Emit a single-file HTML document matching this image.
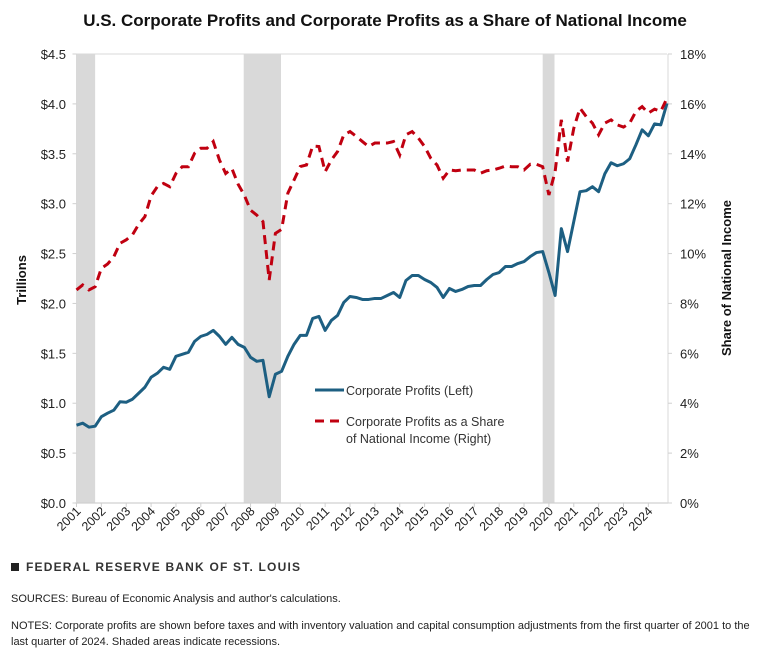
<!DOCTYPE html>
<html><head><meta charset="utf-8"><style>
body{margin:0;background:#fff;width:770px;height:653px;overflow:hidden;font-family:"Liberation Sans",sans-serif;}
svg{position:absolute;left:0;top:0}
.t{font-family:"Liberation Sans",sans-serif;}
</style></head><body>
<svg id="chart" width="770" height="653" xmlns="http://www.w3.org/2000/svg">
<text x="385" y="26" text-anchor="middle" font-size="17" font-weight="bold" fill="#111" class="t">U.S. Corporate Profits and Corporate Profits as a Share of National Income</text>
<g id="rec"></g>
<g id="grid"></g>
<g id="axes"></g>
<g id="series"></g>
<g>
<line x1="315" y1="390" x2="344" y2="390" stroke="#1d5f82" stroke-width="3"/>
<text x="346" y="395" font-size="12.5" fill="#333" class="t">Corporate Profits (Left)</text>
<line x1="315" y1="421" x2="344" y2="421" stroke="#c00010" stroke-width="3" stroke-dasharray="9,6"/>
<text x="346" y="426" font-size="12.5" fill="#333" class="t">Corporate Profits as a Share</text>
<text x="346" y="443" font-size="12.5" fill="#333" class="t">of National Income (Right)</text>
</g>
<text transform="translate(26,280) rotate(-90)" text-anchor="middle" font-size="13" font-weight="bold" fill="#111" class="t">Trillions</text>
<text transform="translate(731,278) rotate(-90)" text-anchor="middle" font-size="13" font-weight="bold" fill="#111" class="t">Share of National Income</text>
<rect x="11" y="563" width="8" height="8" fill="#222"/>
<text x="26" y="571" font-size="12" font-weight="bold" letter-spacing="1.2" fill="#333" class="t">FEDERAL RESERVE BANK OF ST. LOUIS</text>
<text x="11" y="602" font-size="11" fill="#222" class="t">SOURCES: Bureau of Economic Analysis and author's calculations.</text>
<text x="11" y="629" font-size="11" fill="#222" class="t">NOTES: Corporate profits are shown before taxes and with inventory valuation and capital consumption adjustments from the first quarter of 2001 to the</text>
<text x="11" y="645" font-size="11" fill="#222" class="t">last quarter of 2024. Shaded areas indicate recessions.</text>
</svg>
<script>
const years=[2001,2002,2003,2004,2005,2006,2007,2008,2009,2010,2011,2012,2013,2014,2015,2016,2017,2018,2019,2020,2021,2022,2023,2024];
const leftTicks=[0,0.5,1,1.5,2,2.5,3,3.5,4,4.5];
const leftLabels=["$0.0","$0.5","$1.0","$1.5","$2.0","$2.5","$3.0","$3.5","$4.0","$4.5"];
const rightTicks=[0,2,4,6,8,10,12,14,16,18];
const rightLabels=["0%","2%","4%","6%","8%","10%","12%","14%","16%","18%"];
const recessions=[[0,3],[26.9,32.9],[75,76.9]];
const profits=[0.78,0.80,0.76,0.77,0.865,0.90,0.93,1.015,1.01,1.04,1.10,1.16,1.26,1.30,1.36,1.34,1.47,1.49,1.51,1.62,1.67,1.69,1.73,1.67,1.59,1.66,1.59,1.56,1.46,1.42,1.43,1.065,1.29,1.32,1.47,1.59,1.68,1.68,1.85,1.87,1.73,1.83,1.88,2.01,2.07,2.06,2.04,2.04,2.05,2.05,2.08,2.11,2.06,2.23,2.28,2.28,2.24,2.21,2.16,2.06,2.15,2.12,2.14,2.17,2.18,2.18,2.24,2.29,2.31,2.37,2.37,2.40,2.42,2.47,2.51,2.52,2.31,2.08,2.75,2.52,2.82,3.12,3.13,3.17,3.12,3.30,3.41,3.38,3.40,3.45,3.59,3.74,3.68,3.80,3.79,4.005];
const share=[8.54,8.74,8.54,8.67,9.41,9.58,9.87,10.41,10.55,10.75,11.17,11.48,12.31,12.68,12.81,12.68,13.21,13.48,13.48,14.02,14.22,14.22,14.49,13.75,13.21,13.41,12.78,12.34,11.74,11.54,11.28,8.94,10.81,10.97,12.42,12.95,13.49,13.55,14.31,14.29,13.28,13.75,14.09,14.76,14.89,14.7,14.49,14.29,14.43,14.43,14.43,14.49,13.95,14.76,14.89,14.63,14.29,13.82,13.55,13.02,13.35,13.32,13.35,13.35,13.35,13.22,13.32,13.35,13.42,13.51,13.48,13.48,13.35,13.58,13.58,13.48,12.35,13.28,15.36,13.69,15.02,15.83,15.49,15.23,14.76,15.23,15.36,15.16,15.07,15.23,15.7,15.89,15.63,15.79,15.7,16.23];
const NS="http://www.w3.org/2000/svg";
const X0=76.5,X1=667,Y0=503,Y1=54;
const xq=i=>X0+(X1-X0)*i/95;
const yL=v=>Y0-(Y0-Y1)*v/4.5;
const yR=v=>Y0-(Y0-Y1)*v/18;
function mk(tag,parent,attrs){const e=document.createElementNS(NS,tag);for(const k in attrs)e.setAttribute(k,attrs[k]);document.getElementById(parent).appendChild(e);return e;}
recessions.forEach((r,i)=>{
 const e=mk('rect','rec',{x:xq(r[0]),y:Y1,width:xq(r[1])-xq(r[0]),height:Y0-Y1,fill:'#d9d9d9'});
 
 
});
let e=mk('line','grid',{x1:X0,y1:Y1,x2:X1,y2:Y1,stroke:'#d9d9d9'});


e=mk('line','axes',{x1:X0-1,y1:Y0,x2:X1+1,y2:Y0,stroke:'#d0d0d0','stroke-width':1.2});


e=mk('line','axes',{x1:X0,y1:Y1,x2:X0,y2:Y0,stroke:'#d9d9d9'});


e=mk('line','axes',{x1:X1+1,y1:Y1,x2:X1+1,y2:Y0,stroke:'#d9d9d9'});


leftTicks.forEach((v,i)=>{
 const t=mk('text','axes',{x:66,y:yL(v)+5,'text-anchor':'end','font-size':13,fill:'#222'});
 t.textContent=leftLabels[i];
 
 
 const tk=mk('line','axes',{x1:X0-4,y1:yL(v),x2:X0,y2:yL(v),stroke:'#d0d0d0'});
 
 
});
rightTicks.forEach((v,i)=>{
 const t=mk('text','axes',{x:680,y:yR(v)+5,'text-anchor':'start','font-size':13,fill:'#222'});
 t.textContent=rightLabels[i];
 
 
 const tk=mk('line','axes',{x1:X1+1,y1:yR(v),x2:X1+5,y2:yR(v),stroke:'#d0d0d0'});
 
 
});
years.forEach((yr,i)=>{
 const x=xq(i*4);
 const tk=mk('line','axes',{x1:x,y1:Y0,x2:x,y2:Y0+4,stroke:'#d0d0d0'});
 
 
 const t=mk('text','axes',{transform:`translate(${x+5},${Y0+9}) rotate(-45)`,'text-anchor':'end','font-size':12.5,fill:'#222'});
 t.textContent=yr;
 
 
});
const p1=mk('polyline','series',{points:profits.map((v,i)=>xq(i)+','+yL(v)).join(' '),fill:'none',stroke:'#1d5f82','stroke-width':3,'stroke-linejoin':'round'});


const p2=mk('polyline','series',{points:share.map((v,i)=>xq(i)+','+yR(v)).join(' '),fill:'none',stroke:'#c00010','stroke-width':3,'stroke-dasharray':'9,6'});


</script>
</body></html>
